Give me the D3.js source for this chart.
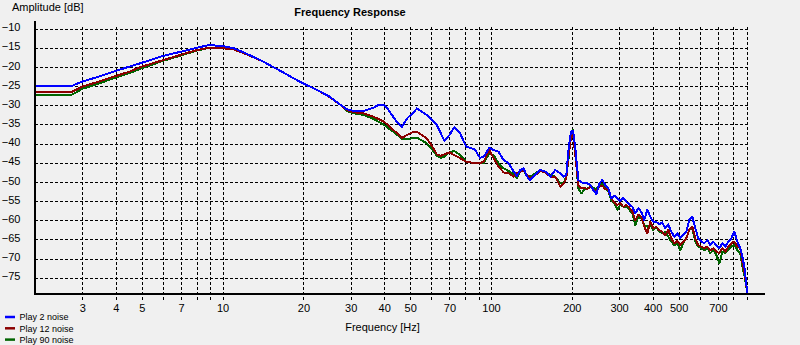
<!DOCTYPE html>
<html><head><meta charset="utf-8">
<script src="https://cdn.jsdelivr.net/npm/d3@7/dist/d3.min.js"></script>
<style>
html,body{margin:0;padding:0;background:#f0f0f0;overflow:hidden}
svg{display:block;font-family:"Liberation Sans",Arial,sans-serif}
</style>
</head><body>
<svg id="c" width="800" height="345"></svg>
<script>
// ---- data ----
const freqs = [2, 2.75, 3, 3.5, 4, 4.5, 5, 6, 7, 8, 8.85, 10, 11, 12, 14, 16.4, 18.9, 20, 22.5, 25,
  27.5, 29, 30.8, 33.5, 36.6, 38.1, 40, 41.5, 44, 46.6, 48.7, 51, 53, 57.6, 60, 62.8, 65, 67, 70, 73,
  76.7, 80.8, 87, 91, 94, 98.5, 102.3, 106.7, 111.4, 116.3, 121.4, 125, 128.6, 132.3, 136.2, 140.1, 146.3, 152.7, 159.4, 166.3,
  173.6, 181.2, 186.5, 190.8, 194.6, 198.6, 202.1, 206.1,
  211.5, 216.9, 222.6, 228.5, 234.4, 240.6, 246.8, 253.3, 259.9, 266.7, 273.5, 280.7, 288.0, 295.5, 303.2, 311.1, 319.2, 327.6, 336.1, 344.8,
  353.8, 363.1, 372.5, 382.2, 392.2, 402.4, 412.9, 423.6, 434.7, 446.0, 457.7, 469.6, 481.9, 494.4, 507.3, 520.6, 534.1, 548.1, 562.3, 577.0,
  592.0, 607.5, 623.3, 639.6, 656.3, 673.4, 691.0, 709.1, 727.5, 746.5, 766.0, 786.0, 806.5, 827.5, 849.0, 863.8, 878.7, 890, 901.6];

const play2 = [-24.9, -24.9, -23.8, -22.4, -21.0, -19.9, -18.9, -17.1, -16.0, -15.0, -14.3, -14.5, -15.1, -16.2, -18.4, -21.0, -23.4, -24.3, -26.0, -27.7,
  -29.9, -31.0, -31.5, -31.5, -30.6, -29.9, -29.9, -31.2, -33.8, -35.6, -33.4, -32.1, -30.8, -32.5, -33.8, -35.1, -37.3, -39.3, -37.75, -35.75,
  -37.3, -40.8, -41.5, -43.7, -43.4, -41.1, -41.7, -42.1, -44.3, -45.1, -47.3, -48.4, -46.9, -46.45, -48.6, -49.5, -48.2, -46.9, -47.3, -48.6,
  -46.9, -47.75, -48.6, -48.2, -41.3, -37.0, -36.6, -41.0,
  -49.5, -50.1, -50.4, -50.4, -50.8, -52.1, -53.2, -50.4, -49.5, -50.8, -51.7, -54.3, -53.6, -54.3, -55.0, -54.1, -55.2, -55.9, -56.5, -58.2,
  -56.9, -57.8, -59.95, -57.3, -59.1, -60.4, -60.4, -61.1, -60.55, -62.1, -61.1, -63.0, -64.3, -63.4, -64.7, -63.7, -63.0, -59.95, -59.1, -62.1,
  -64.7, -65.6, -66.0, -65.2, -66.5, -65.6, -66.5, -67.3, -66.0, -66.9, -65.6, -64.7, -63.0, -65.6, -67.3, -69.5, -72.1, -75.6, -79.1];

const play12 = [-26.45, -26.45, -25.1, -23.7, -22.35, -21.2, -19.9, -18.2, -16.8, -15.6, -15.0, -15.1, -15.4, -16.4, -18.4, -21.0, -23.4, -24.3, -26.0, -27.8,
  -29.9, -31.2, -31.8, -32.1, -33.0, -33.6, -34.3, -35.3, -36.9, -38.5, -37.75, -37.05, -36.9, -38.6, -40.4, -42.8, -43.2, -42.8, -42.3, -43.0,
  -43.8, -44.7, -45.1, -45.1, -44.7, -41.7, -43.8, -46.0, -47.5, -47.75, -48.6, -47.75, -47.3, -46.9, -48.2, -49.05, -48.2, -47.15, -47.5, -48.6,
  -48.6, -51.25, -50.4, -49.05, -43.0, -38.5, -37.3, -43.0,
  -50.8, -51.7, -51.5, -51.85, -51.25, -51.85, -52.55, -51.25, -51.0, -51.85, -52.1, -54.3, -55.3, -56.0, -55.6, -56.5, -56.0, -56.7, -57.8, -59.95,
  -58.6, -59.1, -61.7, -63.4, -60.4, -62.1, -61.7, -62.55, -63.0, -63.9, -62.55, -64.7, -66.0, -65.4, -66.5, -65.6, -64.7, -62.55, -61.7, -64.7,
  -66.5, -66.9, -67.3, -66.9, -67.8, -67.3, -68.2, -68.6, -67.3, -68.2, -66.9, -66.0, -65.6, -66.9, -67.3, -70.8, -73.4, -76.0, -79.1];

const play90 = [-27.2, -27.2, -25.7, -24.2, -22.7, -21.6, -20.3, -18.4, -17.0, -15.7, -15.05, -15.1, -15.4, -16.4, -18.4, -21.0, -23.4, -24.3, -26.0, -27.8,
  -29.9, -31.5, -32.1, -32.5, -33.6, -34.3, -35.1, -36.0, -37.3, -38.8, -38.8, -38.6, -38.45, -39.9, -41.2, -43.2, -43.7, -43.4, -42.3, -41.9,
  -43.0, -44.7, -45.1, -45.1, -45.1, -42.5, -43.0, -45.1, -46.45, -47.15, -48.0, -49.05, -47.3, -47.15, -48.2, -48.6, -47.75, -46.9, -47.5, -48.2,
  -48.6, -50.4, -50.4, -48.6, -43.8, -37.5, -36.4, -42.0,
  -51.7, -53.0, -52.1, -51.7, -51.25, -51.5, -51.85, -50.8, -50.6, -51.5, -52.4, -54.7, -55.6, -57.3, -55.85, -56.5, -56.5, -57.3, -58.2, -61.25,
  -59.1, -59.5, -61.25, -61.7, -61.25, -62.55, -61.7, -63.0, -63.4, -63.0, -64.3, -65.6, -66.5, -66.0, -67.8, -66.0, -64.7, -62.55, -62.1, -65.6,
  -66.9, -67.3, -67.8, -67.3, -68.6, -67.8, -69.1, -71.25, -68.2, -68.6, -67.8, -66.9, -66.5, -67.8, -68.6, -72.1, -74.3, -76.5, -79.1];

const seriesNames = ["Play 2 noise", "Play 12 noise", "Play 90 noise"];
const seriesColors = ["#0000ff", "#8b0000", "#006400"];
const gridFreqs = [3, 4, 5, 6, 7, 8, 9, 10, 20, 30, 40, 50, 60, 70, 80, 90, 100, 200, 300, 400, 500, 600, 700, 800, 900];
const labelFreqs = [3, 4, 5, 7, 10, 20, 30, 40, 50, 70, 100, 200, 300, 400, 500, 700];
const yTicks = [-10, -15, -20, -25, -30, -35, -40, -45, -50, -55, -60, -65, -70, -75];

// ---- chart ----
const svg = d3.select("#c");
const x = d3.scaleLog().domain([2, 1000]).range([35, 759.4]);
const y = d3.scaleLinear().domain([-10, -75]).range([28.7, 277.7]);
const yBottom = y(-79.3), yTop = y(-8);

// horizontal grid
svg.append("g").selectAll("line").data(yTicks).join("line")
  .attr("x1", x(2)).attr("x2", x(900) + 1)
  .attr("y1", d => Math.round(y(d)) + 0.5).attr("y2", d => Math.round(y(d)) + 0.5)
  .attr("stroke", "#000").attr("stroke-width", 1).attr("stroke-dasharray", "3,2")
  .attr("shape-rendering", "crispEdges");

// vertical grid
svg.append("g").selectAll("line").data(gridFreqs).join("line")
  .attr("x1", d => Math.round(x(d)) + 0.5).attr("x2", d => Math.round(x(d)) + 0.5)
  .attr("y1", y(-10) - 2).attr("y2", yBottom + 6)
  .attr("stroke", "#000").attr("stroke-width", 1).attr("stroke-dasharray", "3,2")
  .attr("shape-rendering", "crispEdges");

// series
const series = [
  {name: seriesNames[2], color: seriesColors[2], values: play90},
  {name: seriesNames[1], color: seriesColors[1], values: play12},
  {name: seriesNames[0], color: seriesColors[0], values: play2}
];
const line = d3.line().x((d, i) => x(freqs[i])).y(d => y(d));
svg.append("g").selectAll("path").data(series).join("path")
  .attr("d", s => line(s.values))
  .attr("fill", "none").attr("stroke", s => s.color).attr("stroke-width", 2)
  .attr("stroke-linejoin", "round")
  .attr("shape-rendering", "crispEdges");

// axes lines
svg.append("line").attr("x1", x(2)).attr("x2", x(2))
  .attr("y1", yTop).attr("y2", yBottom + 1)
  .attr("stroke", "#000").attr("stroke-width", 2).attr("shape-rendering", "crispEdges");
svg.append("line").attr("x1", x(2) - 1).attr("x2", x(1000) + 6)
  .attr("y1", yBottom).attr("y2", yBottom)
  .attr("stroke", "#000").attr("stroke-width", 2).attr("shape-rendering", "crispEdges");

// y labels
const yAxis = d3.axisLeft(y).tickValues(yTicks).tickSize(0).tickPadding(0).tickFormat(d3.format("d"));
const gy = svg.append("g").attr("transform", "translate(20.5,0)").call(yAxis);
gy.select(".domain").remove();
gy.selectAll("text").attr("dy", "0.19em").attr("font-size", 11)
  .attr("font-family", "Liberation Sans, Arial, sans-serif").attr("fill", "#000");

// x labels
const xAxis = d3.axisBottom(x).tickValues(labelFreqs).tickSize(0).tickPadding(0).tickFormat(d3.format("d"));
const gx = svg.append("g").attr("transform", `translate(0,${yBottom})`).call(xAxis);
gx.select(".domain").remove();
gx.selectAll("text").attr("y", 18).attr("dy", 0).attr("font-size", 11)
  .attr("font-family", "Liberation Sans, Arial, sans-serif").attr("fill", "#000");

// titles
svg.append("text").attr("x", 12).attr("y", 10.5).attr("font-size", 11).text("Amplitude [dB]");
svg.append("text").attr("x", 350).attr("y", 15.5).attr("text-anchor", "middle")
  .attr("font-size", 11).attr("font-weight", "bold").text("Frequency Response");
svg.append("text").attr("x", 382.5).attr("y", 331).attr("text-anchor", "middle")
  .attr("font-size", 11).text("Frequency [Hz]");

// legend
const lg = svg.append("g").selectAll("g").data(seriesNames).join("g")
  .attr("transform", (d, i) => `translate(0,${317 + i * 11.3})`);
lg.append("line").attr("x1", 5).attr("x2", 15).attr("y1", 0).attr("y2", 0)
  .attr("stroke", (d, i) => seriesColors[i]).attr("stroke-width", 2.5);
lg.append("text").attr("x", 19.5).attr("y", 3.2).attr("font-size", 9).attr("fill", "#000").text(d => d);
</script>
</body></html>
